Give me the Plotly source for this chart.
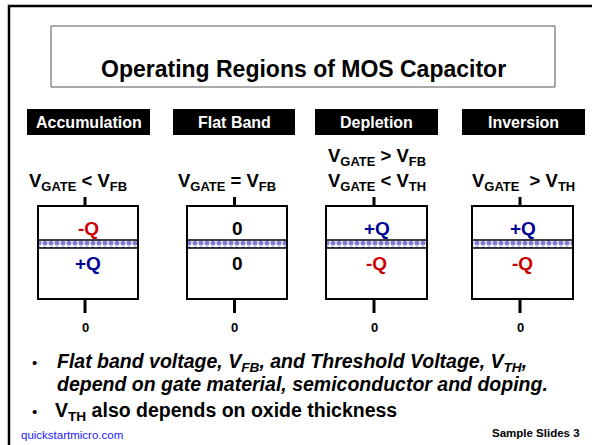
import plotly.graph_objects as go

# ---- data ----
regions = ["Accumulation", "Flat Band", "Depletion", "Inversion"]
cond_line1 = ["", "", "V<sub>GATE</sub> &gt; V<sub>FB</sub>", ""]
cond_line2 = ["V<sub>GATE</sub> &lt; V<sub>FB</sub>", "V<sub>GATE</sub> = V<sub>FB</sub>",
              "V<sub>GATE</sub> &lt; V<sub>TH</sub>", "V<sub>GATE</sub>\u00a0 &gt; V<sub>TH</sub>"]
gate_charge = ["-Q", "0", "+Q", "+Q"]
semi_charge = ["+Q", "0", "-Q", "-Q"]
terminal = ["0", "0", "0", "0"]
title = "Operating Regions of MOS Capacitor"
bullets = [
    "<i>Flat band voltage, V<sub>FB</sub>, and Threshold Voltage, V<sub>TH</sub>,</i>",
    "<i>depend on gate material, semiconductor and doping.</i>",
    "V<sub>TH</sub> also depends on oxide thickness",
]
footer_left = "quickstartmicro.com"
footer_right = "Sample Slides 3"

# ---- layout / style ----
W, H = 592, 445
FONT = "Arial, Liberation Sans, sans-serif"
RED = "#CC0000"
BLUE = "#000099"
charge_color = {"-Q": RED, "+Q": BLUE, "0": "black"}

hdr_x = [(27, 150), (173, 295), (315, 438), (462, 585)]
cond_x = [77.5, 226.5, 377, 523.5]
box_x = [(38, 138), (187, 287), (326, 427), (472, 573)]
stub_x = [85, 234.5, 374, 520]
BOX_TOP, OX_TOP, OX_BOT, BOX_BOT = 206, 240, 248, 299

fig = go.Figure()
shapes = []
ann = []

# outer frame
shapes.append(dict(type="rect", x0=9, y0=6, x1=620, y1=470,
                   line=dict(color="black", width=2.5)))
# title box
shapes.append(dict(type="rect", x0=51, y0=26, x1=555, y1=87,
                   line=dict(color="#555555", width=1)))
ann.append(dict(x=303, y=69, text="<b>" + title + "</b>", showarrow=False,
                font=dict(family=FONT, size=23, color="black"),
                xanchor="center", yanchor="middle"))

for i, r in enumerate(regions):
    hx0, hx1 = hdr_x[i]
    shapes.append(dict(type="rect", x0=hx0, y0=109, x1=hx1, y1=135,
                       fillcolor="black", line=dict(width=0)))
    ann.append(dict(x=(hx0 + hx1) / 2, y=122, text="<b>" + r + "</b>",
                    showarrow=False, font=dict(family=FONT, size=16, color="white"),
                    xanchor="center", yanchor="middle"))
    if cond_line1[i]:
        ann.append(dict(x=cond_x[i], y=157, text="<b>" + cond_line1[i] + "</b>",
                        showarrow=False, font=dict(family=FONT, size=18.5, color="black"),
                        xanchor="center", yanchor="middle"))
    ann.append(dict(x=cond_x[i], y=182, text="<b>" + cond_line2[i] + "</b>",
                    showarrow=False, font=dict(family=FONT, size=18.5, color="black"),
                    xanchor="center", yanchor="middle"))
    bx0, bx1 = box_x[i]
    # oxide layer (patterned)
    fig.add_trace(go.Scatter(
        x=[bx0, bx1, bx1, bx0, bx0], y=[OX_TOP, OX_TOP, OX_BOT, OX_BOT, OX_TOP],
        mode="lines", fill="toself", line=dict(width=0),
        fillcolor="white",
        fillpattern=dict(shape=".", fgcolor="#0000AA", bgcolor="white",
                         size=6, solidity=0.55),
        hoverinfo="skip", showlegend=False))
    # box outline + oxide edges
    shapes.append(dict(type="rect", x0=bx0, y0=BOX_TOP, x1=bx1, y1=BOX_BOT,
                       line=dict(color="black", width=2)))
    shapes.append(dict(type="line", x0=bx0, y0=OX_TOP, x1=bx1, y1=OX_TOP,
                       line=dict(color="black", width=1.5)))
    shapes.append(dict(type="line", x0=bx0, y0=OX_BOT, x1=bx1, y1=OX_BOT,
                       line=dict(color="black", width=1.5)))
    # terminals
    sx = stub_x[i]
    shapes.append(dict(type="rect", x0=sx - 1.5, y0=197, x1=sx + 1.5, y1=BOX_TOP,
                       fillcolor="black", line=dict(width=0)))
    shapes.append(dict(type="rect", x0=sx - 1.5, y0=BOX_BOT, x1=sx + 1.5, y1=313,
                       fillcolor="black", line=dict(width=0)))
    cx = (bx0 + bx1) / 2
    ann.append(dict(x=cx, y=228, text="<b>" + gate_charge[i] + "</b>", showarrow=False,
                    font=dict(family=FONT, size=19, color=charge_color[gate_charge[i]]),
                    xanchor="center", yanchor="middle"))
    ann.append(dict(x=cx, y=263, text="<b>" + semi_charge[i] + "</b>", showarrow=False,
                    font=dict(family=FONT, size=19, color=charge_color[semi_charge[i]]),
                    xanchor="center", yanchor="middle"))
    ann.append(dict(x=sx, y=327, text="<b>" + terminal[i] + "</b>", showarrow=False,
                    font=dict(family=FONT, size=13, color="black"),
                    xanchor="center", yanchor="middle"))

# bullets
bullet_y = [362, 384, 411]
bullet_x = [55, 55, 53]
for j, b in enumerate(bullets):
    ann.append(dict(x=bullet_x[j], y=bullet_y[j], text="<b>" + b + "</b>", showarrow=False,
                    font=dict(family=FONT, size=19.5, color="black"),
                    xanchor="left", yanchor="middle"))
for yb in (bullet_y[0], bullet_y[2]):
    ann.append(dict(x=34, y=yb, text="\u2022", showarrow=False,
                    font=dict(family=FONT, size=15, color="black"),
                    xanchor="center", yanchor="middle"))

# footer
ann.append(dict(x=19, y=435, text=footer_left, showarrow=False,
                font=dict(family=FONT, size=11.5, color="#1a1aff"),
                xanchor="left", yanchor="middle"))
ann.append(dict(x=582, y=433, text="<b>" + footer_right + "</b>", showarrow=False,
                font=dict(family=FONT, size=11.5, color="black"),
                xanchor="right", yanchor="middle"))

fig.update_layout(
    width=W, height=H, margin=dict(l=0, r=0, t=0, b=0),
    paper_bgcolor="white", plot_bgcolor="white",
    xaxis=dict(range=[0, W], visible=False, fixedrange=True),
    yaxis=dict(range=[H, 0], visible=False, fixedrange=True),
    shapes=shapes, annotations=ann, showlegend=False,
)
fig.write_html("out.html", config={"displayModeBar": False},
               post_script="document.body.style.margin='0';document.body.style.overflow='hidden';")
